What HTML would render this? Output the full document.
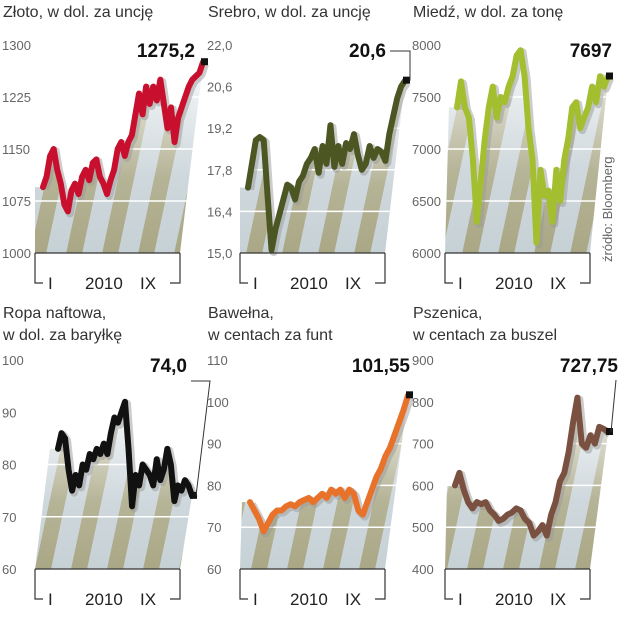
<!DOCTYPE html>
<html><head><meta charset="utf-8"><style>
html,body{margin:0;padding:0;background:#fff}
svg{display:block;font-family:"Liberation Sans",sans-serif}
.t{font-size:16px;fill:#333}
.tk{font-size:13px;fill:#666}
.ax{font-size:17px;fill:#222}
.v{font-size:19px;font-weight:bold;fill:#111}
</style></head><body>
<svg id="c" width="626" height="640" viewBox="0 0 626 640">
<defs>
<pattern id="st" width="36" height="10" patternUnits="userSpaceOnUse" patternTransform="skewX(-12)">
<rect width="36" height="10" fill="#c6d1d6"/><rect x="12" width="16" height="10" fill="#a9a785"/>
</pattern>
<linearGradient id="fd" x1="0" y1="0" x2="0" y2="1"><stop offset="0" stop-color="#fff" stop-opacity="0.85"/><stop offset="0.6" stop-color="#fff" stop-opacity="0.15"/><stop offset="1" stop-color="#fff" stop-opacity="0"/></linearGradient>
</defs>
</svg>
<script>
const goldVals=[1095,1110,1140,1150,1120,1100,1070,1060,1090,1100,1085,1110,1120,1105,1130,1135,1110,1100,1085,1105,1120,1150,1160,1140,1160,1170,1200,1230,1200,1240,1215,1240,1220,1250,1215,1180,1210,1160,1195,1210,1225,1240,1250,1255,1260,1275.2];
const silverVals=[17.2,18.0,18.8,18.9,18.8,16.9,15.1,15.8,16.3,16.8,17.3,17.2,16.8,17.4,17.6,18.0,18.2,18.5,17.7,18.6,18.0,19.3,17.9,18.6,18.0,18.7,18.5,19.0,18.3,17.8,18.0,18.6,18.2,18.5,18.4,18.1,19.0,19.6,20.2,20.6,20.8];
const copperVals=[7400,7650,7400,7300,6900,6300,6700,7100,7400,7600,7300,7500,7450,7600,7700,7900,7950,7700,7200,6900,6100,6800,6550,6600,6300,6800,6500,6900,7100,7400,7450,7200,7300,7400,7600,7450,7700,7600,7697];
const oilVals=[83,86,85,79,75,78,76,80,79,82,81,83,82,84,82,86,89,88,90,92,83,72,78,76,80,79,78,76,81,77,79,83,80,73,76,75,77,76,74];
const cottonVals=[76,74,72,69,71,73,74,74,75,75.5,75,76,76.5,77,76,77,78,77,79,78,79,77,79,78,74,73,76,79,82,84,87,89,92,95,98,101.55];
const wheatVals=[600,630,590,560,545,560,555,560,540,530,515,520,530,535,545,540,520,510,480,490,505,480,530,560,610,630,680,750,810,700,690,720,700,740,735,727.75];
const goldTicks=["1300","1225","1150","1075","1000"];
const silverTicks=["22,0","20,6","19,2","17,8","16,4","15,0"];
const copperTicks=["8000","7500","7000","6500","6000"];
const oilTicks=["100","90","80","70","60"];
const cottonTicks=["110","100","90","80","70","60"];
const wheatTicks=["900","800","700","600","500","400"];
const panels=[
{n:"gold",title:["Złoto, w dol. za uncję"],vals:goldVals,ticks:goldTicks,min:1000,max:1300,color:"#c8102e",ox:0,top:45,bot:253,x0:43,x1:203,label:"1275,2",lx:195},
{n:"silver",title:["Srebro, w dol. za uncję"],vals:silverVals,ticks:silverTicks,min:15,max:22,color:"#4b5623",ox:205,top:45,bot:253,x0:248,x1:405,label:"20,6",lx:386},
{n:"copper",title:["Miedź, w dol. za tonę"],vals:copperVals,ticks:copperTicks,min:6000,max:8000,color:"#a3be2e",ox:410,top:45,bot:253,x0:457,x1:608,label:"7697",lx:612},
{n:"oil",title:["Ropa naftowa,","w dol. za baryłkę"],vals:oilVals,ticks:oilTicks,min:60,max:100,color:"#111",ox:0,top:360,bot:569,x0:58,x1:192,label:"74,0",lx:187},
{n:"cotton",title:["Bawełna,","w centach za funt"],vals:cottonVals,ticks:cottonTicks,min:60,max:110,color:"#e8722a",ox:205,top:360,bot:569,x0:250,x1:408,label:"101,55",lx:410},
{n:"wheat",title:["Pszenica,","w centach za buszel"],vals:wheatVals,ticks:wheatTicks,min:400,max:900,color:"#7a5140",ox:410,top:360,bot:569,x0:455,x1:608,label:"727,75",lx:618}];
const svg=document.getElementById('c');const NS="http://www.w3.org/2000/svg";
function mk(t,a,p){const e=document.createElementNS(NS,t);for(const k in a)e.setAttribute(k,a[k]);(p||svg).appendChild(e);return e;}
panels.forEach(p=>{
 const g=mk('g',{});
 
 
 const ys=v=>p.bot-(v-p.min)/(p.max-p.min)*(p.bot-p.top);
 const xs=i=>p.x0+i*(p.x1-p.x0)/(p.vals.length-1);
 const ty=p.top<100?17:318;
 p.title.forEach((s,i)=>{const t=mk('text',{x:p.ox+3,y:ty+i*22,class:'t'},g);t.textContent=s;
  });
 const bx0=p.ox+35,bx1=p.ox+180;
 let d=`M${bx0},${p.bot} L${xs(0)-8},${ys(p.vals[0])}`;
 p.vals.forEach((v,i)=>d+=` L${xs(i)},${ys(v)}`);
 d+=` L${bx1},${p.bot} Z`;
 const a=mk('path',{d:d,fill:'url(#st)'},g);
 
 mk('path',{d:d,fill:'url(#fd)'},g);
 p.ticks.forEach((s,i)=>{const y=p.top+i*(p.bot-p.top)/(p.ticks.length-1);
  if(i>0&&i<p.ticks.length-1)mk('line',{x1:bx0,x2:bx1+20,y1:y,y2:y,stroke:'#fff','stroke-width':1.5},g);
  const t=mk('text',{x:p.ox+2,y:y+5,class:'tk'},g);t.textContent=s;
  });
 let ld='';p.vals.forEach((v,i)=>ld+=(i?' L':'M')+xs(i)+','+ys(v));
 mk('path',{d:ld,fill:'none',stroke:'#999','stroke-opacity':0.5,'stroke-width':8,transform:'translate(2,2)','stroke-linejoin':'round'},g);
 const ln=mk('path',{d:ld,fill:'none',stroke:p.color,'stroke-width':6,'stroke-linejoin':'round','stroke-linecap':'round'},g);
 
 mk('line',{x1:bx0,x2:bx1,y1:p.bot,y2:p.bot,stroke:'#333','stroke-width':1.2},g);
 const by=p.bot+30;
 mk('path',{d:`M${bx0},${p.bot} V${by} H${bx0+8} M${bx1-10},${by} H${bx1} V${p.bot}`,fill:'none',stroke:'#333','stroke-width':1.2},g);
 [["I",bx0+13],["2010",bx0+50],["IX",bx0+105]].forEach(([s,x])=>{const t=mk('text',{x:x,y:by+6,class:'ax'},g);t.textContent=s;
  });
 const ex=xs(p.vals.length-1),ey=ys(p.vals[p.vals.length-1]);
 const mkr=mk('rect',{x:ex-2,y:ey-4,width:7,height:7,fill:'#111'},g);
 
 const vy=p.top+12;
 const vt=mk('text',{x:p.lx,y:vy,class:'v','text-anchor':'end'},g);vt.textContent=p.label;
 
 if(p.n==='silver')mk('path',{d:`M${p.lx+4},${vy-6} H${ex+5} V${ey}`,fill:'none',stroke:'#333'},g);
 if(p.n==='oil')mk('path',{d:`M${p.lx+4},${vy+9} H${p.ox+210} L${ex+4},${ey}`,fill:'none',stroke:'#333'},g);
 if(p.n==='wheat')mk('path',{d:`M${ex+8},${vy+8} L${ex+3},${ey}`,fill:'none',stroke:'#333'},g);
});
const src=mk('text',{x:0,y:0,class:'tk',transform:'translate(612,262) rotate(-90)'});src.textContent='źródło: Bloomberg';

</script>
</body></html>
